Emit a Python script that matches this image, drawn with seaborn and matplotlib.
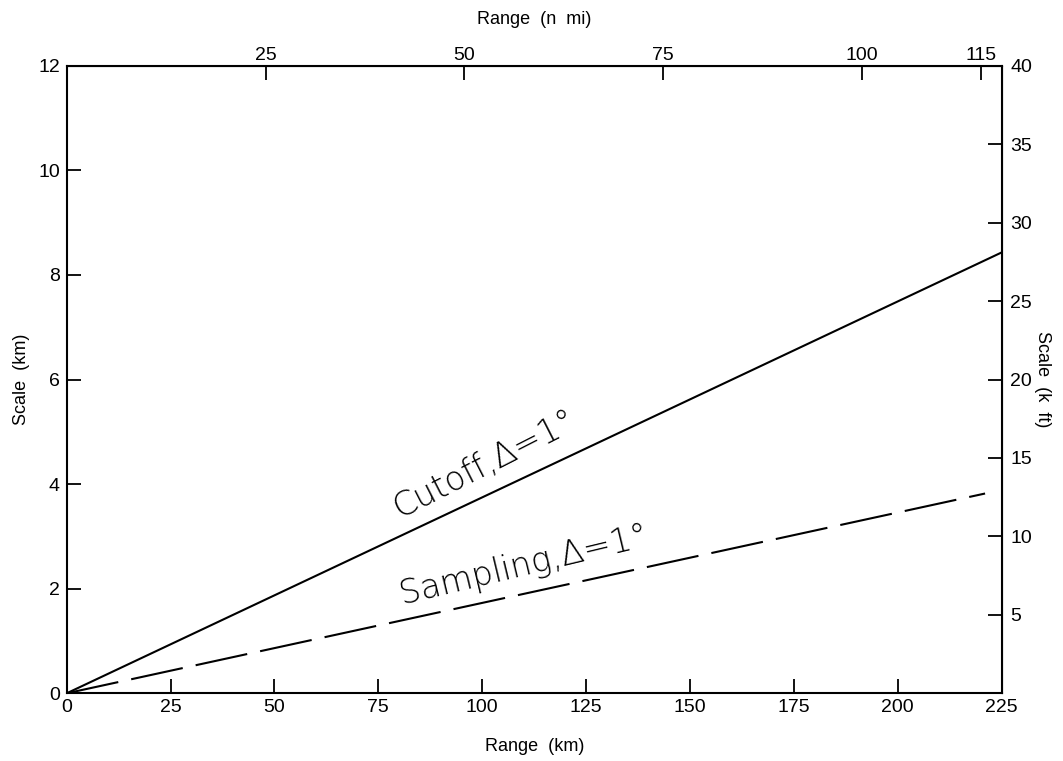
import matplotlib
matplotlib.use("Agg")
import matplotlib.pyplot as plt
import seaborn as sns
import pandas as pd

# data
range_km = [0, 225]
cutoff_km = [0, 8.43]
sampling_range_km = [0, 221]
sampling_km = [0, 3.82]
km_ticks = [0, 25, 50, 75, 100, 125, 150, 175, 200, 225]
scale_ticks = [0, 2, 4, 6, 8, 10, 12]
nmi_ticks = [25, 50, 75, 100, 115]
kft_ticks = [5, 10, 15, 20, 25, 30, 35, 40]
KM_PER_NMI = 1.914
KFT_MAX = 40

sns.set_style("ticks")
plt.rcParams['font.family'] = ['Liberation Sans', 'DejaVu Sans']
plt.rcParams['lines.scale_dashes'] = False
plt.rcParams['text.color'] = 'black'
plt.rcParams['axes.labelcolor'] = 'black'
plt.rcParams['xtick.color'] = 'black'
plt.rcParams['ytick.color'] = 'black'

fig = plt.figure(figsize=(10.63, 7.61), dpi=100)
ax = fig.add_axes([66.7/1063, 1-693.3/761, 935/1063, 627.6/761])

df_c = pd.DataFrame({"x": range_km, "y": cutoff_km})
df_s = pd.DataFrame({"x": sampling_range_km, "y": sampling_km})
sns.lineplot(data=df_c, x="x", y="y", ax=ax, color="black", lw=1.5)
sns.lineplot(data=df_s, x="x", y="y", ax=ax, color="black", lw=1.5)
ax.lines[-1].set_dashes([38, 9.5])

ax.set_xlim(0, 225)
ax.set_ylim(0, 12)
ax.set_xticks(km_ticks)
ax.set_yticks(scale_ticks)
ax.tick_params(direction="in", length=10, width=1.3, labelsize=14,
               labelcolor="black", colors="black", pad=5)
ax.tick_params(axis="x", pad=4)
for s in ax.spines.values():
    s.set_linewidth(1.5)
    s.set_color("black")
ax.set_xlabel("Range  (km)", fontsize=13, labelpad=16, color="black")
ax.set_ylabel("Scale  (km)", fontsize=13, labelpad=6, color="black")

# top axis (nautical miles)
top = ax.secondary_xaxis("top", functions=(lambda x: x / KM_PER_NMI, lambda x: x * KM_PER_NMI))
top.set_xticks(nmi_ticks)
top.tick_params(direction="in", length=10, width=1.3, labelsize=14,
                labelcolor="black", colors="black", pad=1)
top.set_xlabel("Range  (n  mi)", fontsize=13, labelpad=17, color="black")

# right axis (k ft)
right = ax.secondary_yaxis("right", functions=(lambda y: y * KFT_MAX / 12, lambda y: y * 12 / KFT_MAX))
right.set_yticks(kft_ticks)
right.tick_params(direction="in", length=10, width=1.3, labelsize=14,
                  labelcolor="black", colors="black", pad=6)
right.set_ylabel("Scale  (k  ft)", fontsize=13, rotation=270, labelpad=14, color="black")

ax.text(100.5, 4.37, "Cutoff,\u0394=1\u00b0", fontsize=24, rotation=27,
        ha="center", va="center", family=["DejaVu Sans"], fontweight="light", color="black")
ax.text(110, 2.45, "Sampling,\u0394=1\u00b0", fontsize=24, rotation=13.5,
        ha="center", va="center", family=["DejaVu Sans"], fontweight="light", color="black")

fig.savefig("out.png", dpi=100)
